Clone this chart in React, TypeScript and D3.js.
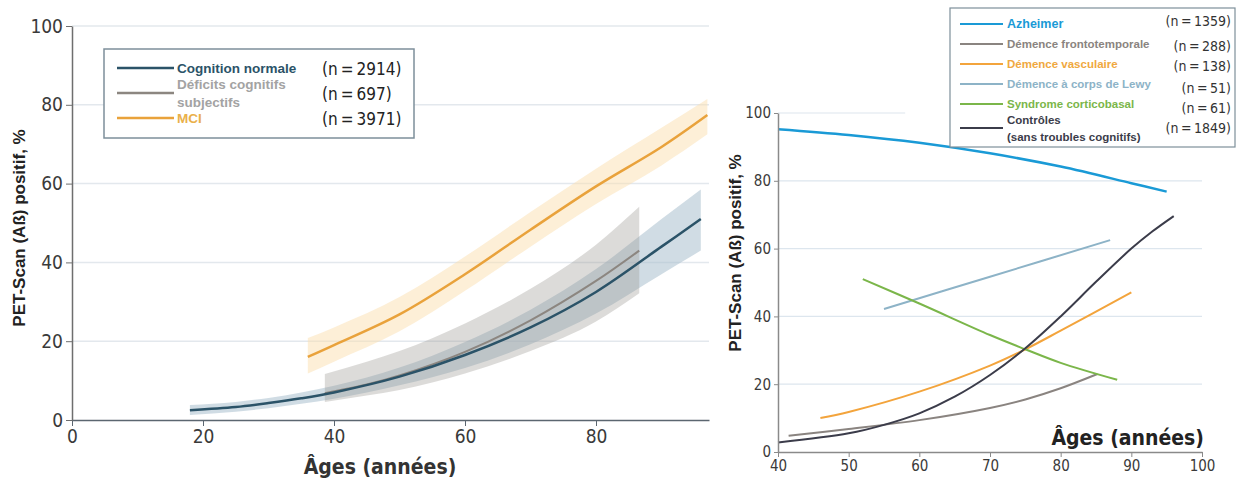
import React, { useEffect, useRef } from "react";
import * as d3 from "d3";

const W = 1238;
const H = 480;
const NARROW = "'DejaVu Sans Condensed', 'Liberation Sans Narrow', sans-serif";
const ARIAL = "'Liberation Sans', Arial, sans-serif";

// ---- left panel: courbes + IC ----
const cnAges = [18, 25, 30, 35, 40, 50, 60, 70, 80, 90, 96];
const cnMid = [2.5, 3.3, 4.3, 5.5, 7, 11, 16.5, 23.5, 32.5, 44, 51];
const cnLow = [1.3, 2.1, 3.0, 4.1, 5.4, 8.8, 13.2, 19.2, 27, 37, 43];
const cnHigh = [3.8, 4.6, 5.6, 7.0, 8.7, 13.3, 19.8, 28, 38.3, 51, 58.5];

const dcsAges = [38.6, 45, 50, 60, 70, 80, 86.6];
const dcsMid = [6.8, 9, 11.3, 17.3, 25.3, 35.3, 43];
const dcsLow = [4.6, 6.2, 7.6, 11.8, 17.5, 25, 32.2];
const dcsHigh = [11.7, 14.8, 17.5, 24.5, 33.3, 44.5, 54.1];

const mciAges = [36, 40, 50, 60, 70, 80, 90, 97];
const mciMid = [16, 19, 26.8, 37, 48.3, 59.3, 69.3, 77.4];
const mciLow = [11.8, 14.8, 22.5, 32.8, 44, 54.8, 64.6, 72.5];
const mciHigh = [20.8, 23.5, 31.2, 41.5, 52.8, 63.8, 74.2, 81.5];

const leftLegend = [
  { lines: ["Cognition normale"], n: "(n\u2009=\u20092914)", color: "#2b5368", text: "#2b5368" },
  { lines: ["Déficits cognitifs", "subjectifs"], n: "(n\u2009=\u2009697)", color: "#8c8680", text: "#a3a3a3" },
  { lines: ["MCI"], n: "(n\u2009=\u20093971)", color: "#e9a23b", text: "#eab04a" },
];

// ---- right panel ----
const alzAges = [40, 50, 60, 70, 80, 90, 95];
const alzVals = [95.2, 93.5, 91.2, 88.1, 84.2, 79.3, 76.8];
const ftdAges = [41.5, 50, 60, 70, 75, 80, 85.2];
const ftdVals = [4.8, 6.8, 9.4, 13, 15.5, 18.8, 23];
const vascAges = [46, 50, 60, 70, 75, 80, 90];
const vascVals = [10, 11.8, 17.8, 25.5, 30.3, 35.8, 47.1];
const lewyAges = [55, 70, 87];
const lewyVals = [42.2, 51.7, 62.5];
const cbsAges = [52, 60, 70, 75, 80, 88];
const cbsVals = [51, 43.8, 34.5, 30.3, 26.3, 21.3];
const ctlAges = [40, 50, 55, 60, 65, 70, 75, 80, 85, 90, 93, 96];
const ctlVals = [2.8, 5.5, 8, 11.4, 16.3, 22.7, 30.6, 40, 50.2, 60, 65.1, 69.6];

const rightSeries = [
  { name: ["Azheimer"], n: "(n\u2009=\u20091359)", ages: alzAges, vals: alzVals, color: "#1a9ad6", width: 2.5 },
  { name: ["Démence frontotemporale"], n: "(n\u2009=\u2009288)", ages: ftdAges, vals: ftdVals, color: "#8a8480", width: 2 },
  { name: ["Démence vasculaire"], n: "(n\u2009=\u2009138)", ages: vascAges, vals: vascVals, color: "#f3a43c", width: 2 },
  { name: ["Démence à corps de Lewy"], n: "(n\u2009=\u200951)", ages: lewyAges, vals: lewyVals, color: "#8db3c7", width: 2 },
  { name: ["Syndrome corticobasal"], n: "(n\u2009=\u200961)", ages: cbsAges, vals: cbsVals, color: "#7bb64a", width: 2 },
  { name: ["Contrôles", "(sans troubles cognitifs)"], n: "(n\u2009=\u20091849)", ages: ctlAges, vals: ctlVals, color: "#3b3c4a", width: 2 },
];
const rightTextColors = ["#1a9ad6", "#8a8480", "#f0a840", "#8db3c7", "#7bb64a", "#3b3c4a"];

// scales
const xL = d3.scaleLinear().domain([0, 97.25]).range([72, 709]);
const yL = d3.scaleLinear().domain([0, 100]).range([420, 26]);
const xR = d3.scaleLinear().domain([40, 100]).range([778, 1202]);
const yR = d3.scaleLinear().domain([0, 100]).range([452, 113]);

const curve = d3.curveCatmullRom.alpha(0.5);

const lineL = (ages: number[], vals: number[]) =>
  d3.line<number>().x((_, i) => xL(ages[i])).y((d) => yL(d)).curve(curve)(vals) || "";
const areaL = (ages: number[], lo: number[], hi: number[]) =>
  d3
    .area<number>()
    .x((_, i) => xL(ages[i]))
    .y0((_, i) => yL(lo[i]))
    .y1((d) => yL(d))
    .curve(d3.curveMonotoneX)(hi) || "";
const lineR = (ages: number[], vals: number[]) =>
  d3.line<number>().x((_, i) => xR(ages[i])).y((d) => yR(d)).curve(curve)(vals) || "";

export default function App() {
  const lx = useRef<SVGGElement>(null);
  const ly = useRef<SVGGElement>(null);
  const rx = useRef<SVGGElement>(null);
  const ry = useRef<SVGGElement>(null);

  useEffect(() => {
    const style = (g: any, size: number, stroke: string) => {
      g.selectAll("text").attr("font-family", NARROW).attr("font-size", size).attr("fill", "#3a3a3a");
      g.selectAll("line").attr("stroke", stroke);
      g.select(".domain").attr("stroke", stroke).attr("stroke-width", 1.5);
    };
    d3.select(lx.current!)
      .call(d3.axisBottom(xL).tickValues([0, 20, 40, 60, 80]).tickSize(6).tickPadding(4).tickSizeOuter(0))
      .call((g: any) => style(g, 19, "#5b6670"));
    d3.select(ly.current!)
      .call(d3.axisLeft(yL).tickValues([0, 20, 40, 60, 80, 100]).tickSize(6).tickPadding(3).tickSizeOuter(0))
      .call((g: any) => style(g, 19, "#6e6e6e"));
    d3.select(rx.current!)
      .call(d3.axisBottom(xR).tickValues([40, 50, 60, 70, 80, 90, 100]).tickSize(5).tickPadding(3).tickSizeOuter(0))
      .call((g: any) => style(g, 15, "#8a8a8a"));
    d3.select(ry.current!)
      .call(d3.axisLeft(yR).tickValues([0, 20, 40, 60, 80, 100]).tickSize(4).tickPadding(3).tickSizeOuter(0))
      .call((g: any) => style(g, 15, "#8a8a8a"));
  }, []);

  return (
    <svg
      width={W}
      height={H}
      style={{ position: "absolute", left: 0, top: 0, background: "#fff" }}
    >
      {/* ---------- left ---------- */}
      <g>
        {[20, 40, 60, 80, 100].map((v) => (
          <line key={v} x1={xL(0)} x2={xL(97.25)} y1={yL(v)} y2={yL(v)} stroke="#e3e8ed" strokeWidth={1.5} />
        ))}
        <path d={areaL(cnAges, cnLow, cnHigh)} fill="#a9bfcd" opacity={0.55} />
        <path d={areaL(dcsAges, dcsLow, dcsHigh)} fill="#9a9893" opacity={0.35} />
        <path d={areaL(mciAges, mciLow, mciHigh)} fill="#fcdfb0" opacity={0.5} />
        <path d={lineL(dcsAges, dcsMid)} fill="none" stroke="#8c8680" strokeWidth={2} />
        <path d={lineL(cnAges, cnMid)} fill="none" stroke="#2b5368" strokeWidth={2.5} />
        <path d={lineL(mciAges, mciMid)} fill="none" stroke="#e9a23b" strokeWidth={2.5} />
        <g ref={lx} transform={`translate(0,${yL(0)})`} />
        <g ref={ly} transform={`translate(${xL(0)},0)`} />
        <text x={380} y={474} textAnchor="middle" fontFamily={NARROW} fontWeight="bold" fontSize={21} fill="#333">
          Âges (années)
        </text>
        <text
          transform={`translate(25,228) rotate(-90)`}
          textAnchor="middle"
          fontFamily={ARIAL}
          fontWeight="bold"
          fontSize={17}
          fill="#222"
        >
          PET-Scan (Aß) positif, %
        </text>
        <rect x={104} y={49} width={310} height={89} fill="#fff" stroke="#7d8f9a" strokeWidth={1.5} />
        {leftLegend.map((d, i) => {
          const cy = [68, 93, 118][i];
          return (
            <g key={i}>
              <line x1={117} x2={174} y1={cy} y2={cy} stroke={d.color} strokeWidth={2.5} />
              {d.lines.map((t, j) => (
                <text
                  key={j}
                  x={177}
                  y={cy + 5 + (d.lines.length > 1 ? (j === 0 ? -9 : 9) : 0)}
                  fontFamily={ARIAL}
                  fontWeight="bold"
                  fontSize={13.5}
                  fill={d.text}
                >
                  {t}
                </text>
              ))}
              <text x={322} y={cy + 7} fontFamily={NARROW} fontSize={17} fill="#222">
                {d.n}
              </text>
            </g>
          );
        })}
      </g>

      {/* ---------- right ---------- */}
      <g>
        {[20, 40, 60, 80].map((v) => (
          <line key={v} x1={xR(40)} x2={xR(100)} y1={yR(v)} y2={yR(v)} stroke="#dde6ee" strokeWidth={1.2} />
        ))}
        <line x1={xR(40)} x2={xR(58)} y1={yR(100)} y2={yR(100)} stroke="#dde6ee" strokeWidth={1.2} />
        {rightSeries.map((s, i) => (
          <path key={i} d={lineR(s.ages, s.vals)} fill="none" stroke={s.color} strokeWidth={s.width} />
        ))}
        <g ref={rx} transform={`translate(0,${yR(0)})`} />
        <g ref={ry} transform={`translate(${xR(40)},0)`} />
        <text x={1204} y={445} textAnchor="end" fontFamily={NARROW} fontWeight="bold" fontSize={21} fill="#222">
          Âges (années)
        </text>
        <text
          transform={`translate(741,253) rotate(-90)`}
          textAnchor="middle"
          fontFamily={ARIAL}
          fontWeight="bold"
          fontSize={17}
          fill="#222"
        >
          PET-Scan (Aß) positif, %
        </text>
        <rect x={950} y={8} width={285} height={139} fill="#fff" stroke="#7d8f9a" strokeWidth={1.2} />
        {rightSeries.map((s, i) => {
          const cy = [24, 44, 64, 84, 104, 128][i];
          const ny = [21, 46, 66, 88, 108, 128][i];
          return (
            <g key={i}>
              <line x1={960} x2={1003} y1={cy} y2={cy} stroke={s.color} strokeWidth={2} />
              {s.name.map((t, j) => (
                <text
                  key={j}
                  x={1007}
                  y={cy + 4 + (s.name.length > 1 ? (j === 0 ? -8 : 9) : 0)}
                  fontFamily={ARIAL}
                  fontWeight="bold"
                  fontSize={i === 0 ? 12.5 : 11.5}
                  fill={rightTextColors[i]}
                >
                  {t}
                </text>
              ))}
              <text x={1231} y={ny + 5} textAnchor="end" fontFamily={NARROW} fontSize={14} fill="#333">
                {s.n}
              </text>
            </g>
          );
        })}
      </g>
    </svg>
  );
}
